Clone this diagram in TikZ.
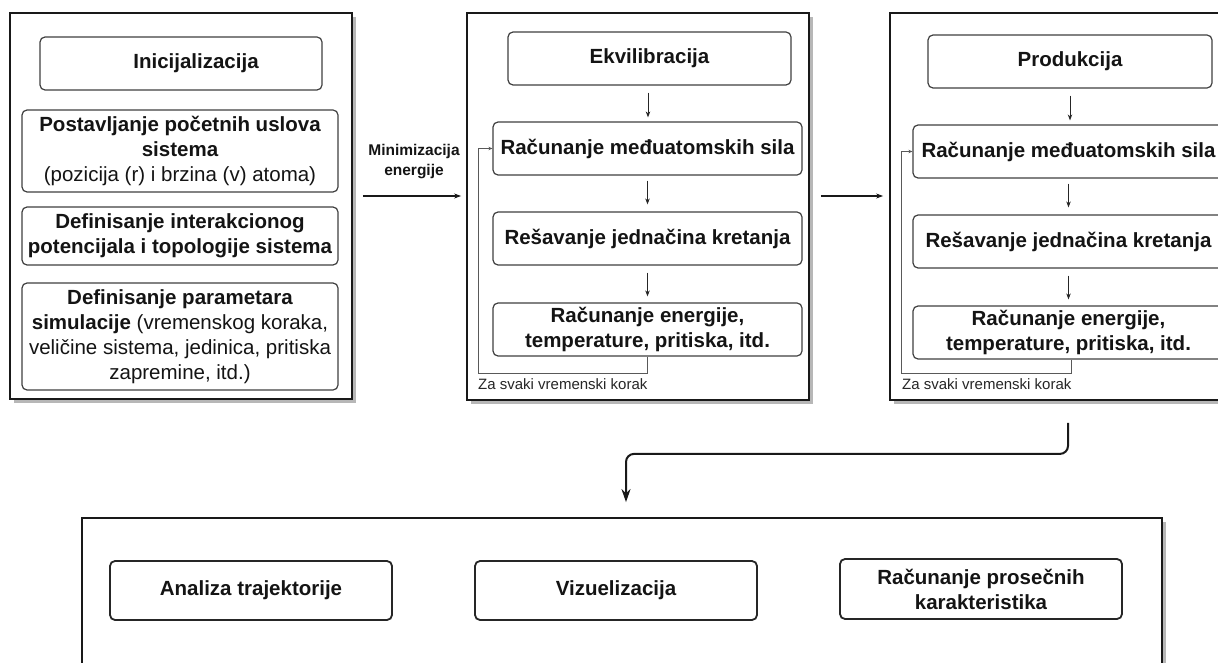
\documentclass[tikz,border=0pt]{standalone}
\usepackage{fontspec}
\setmainfont{Liberation Sans}
\usetikzlibrary{shadows,arrows.meta}
\newcommand\btxt{\fontsize{20.5}{25}\selectfont}
\newcommand\stxt{\fontsize{15}{18}\selectfont}
\begin{document}
\begin{tikzpicture}[x=1pt,y=1pt,
  outer/.style={draw=black!90, line width=1.8pt, fill=white, inner sep=0pt,
    drop shadow={shadow xshift=4pt,shadow yshift=-4pt,opacity=0.4,fill=black!70}},
  ibox/.style={draw=black!75, line width=1.2pt, rounded corners=5pt, fill=white,
    align=center, inner sep=0pt, text=black!92, font=\btxt},
  bbox/.style={ibox, draw=black!85, line width=1.8pt},
  sarr/.style={draw=black!85, line width=0.9pt, -{Stealth[length=6pt,width=4.5pt]}},
  lp/.style={draw=black!65, line width=1pt, -{Stealth[length=4pt,width=3.5pt]}},
  marr/.style={draw=black!90, line width=1.1pt, -{Stealth[length=7pt,width=5pt]}},
  barr/.style={draw=black!90, line width=2pt, rounded corners=8pt, -{Stealth[length=13pt,width=9pt]}},
  note/.style={font=\stxt, text=black!85, inner sep=0pt, anchor=west}]
\useasboundingbox (0,0) rectangle (1218,-663);
\fill[white] (0,0) rectangle (1218,-663);
\clip (0,0) rectangle (1218,-663);

% outer boxes
\node[outer, minimum width=342pt, minimum height=386pt] (b1) at (181,-206) {};
\node[outer, minimum width=342pt, minimum height=387pt] (b2) at (638,-206.5) {};
\node[outer, minimum width=342pt, minimum height=387pt] (b3) at (1061,-206.5) {};
\node[outer, minimum width=1080pt, minimum height=210pt] (bot) at (622,-623) {};

% box 1
\node[ibox, minimum width=282pt, minimum height=53pt] (init) at (181,-63.5) {\bfseries\hspace*{30pt}Inicijalizacija};
\node[ibox, minimum width=316pt, minimum height=82pt] (post) at (180,-151) {{\bfseries Postavljanje početnih uslova}\\{\bfseries sistema}\\(pozicija (r) i brzina (v) atoma)};
\node[ibox, minimum width=316pt, minimum height=58pt] (defint) at (180,-236) {{\bfseries Definisanje interakcionog}\\{\bfseries potencijala i topologije sistema}};
\node[ibox, minimum width=316pt, minimum height=107pt] (defpar) at (180,-336.5) {{\bfseries Definisanje parametara}\\{\bfseries simulacije} (vremenskog koraka,\\veličine sistema, jedinica, pritiska\\zapremine, itd.)};

% box 2
\node[ibox, minimum width=283pt, minimum height=53pt] (ekv) at (649.5,-58.5) {\bfseries Ekvilibracija};
\node[ibox, minimum width=309pt, minimum height=53pt] (sil2) at (647.5,-148.5) {\bfseries Računanje međuatomskih sila};
\node[ibox, minimum width=309pt, minimum height=53pt] (res2) at (647.5,-238.5) {\bfseries Rešavanje jednačina kretanja};
\node[ibox, minimum width=309pt, minimum height=53pt] (en2) at (647.5,-329.5) {{\bfseries Računanje energije,}\\{\bfseries temperature, pritiska, itd.}};
\draw[sarr, shorten <=7pt, shorten >=4pt] ([xshift=-1.5pt]ekv.south) -- ([xshift=-1.5pt]ekv.south |- sil2.north);
\draw[sarr, shorten <=5pt, shorten >=7pt] (sil2.south) -- (res2.north);
\draw[sarr, shorten <=7pt, shorten >=6pt] (res2.south) -- (en2.north);
\draw[lp] (en2.south) -- ++(0,-17pt) -| ([xshift=-14pt]sil2.west) -- (sil2.west);
\node[note] (z2) at (478,-384) {Za svaki vremenski korak};

% box 3
\node[ibox, minimum width=284pt, minimum height=53pt] (prod) at (1070,-61.5) {\bfseries Produkcija};
\node[ibox, minimum width=311pt, minimum height=53pt] (sil3) at (1068.5,-151.5) {\bfseries Računanje međuatomskih sila};
\node[ibox, minimum width=311pt, minimum height=53pt] (res3) at (1068.5,-241.5) {\bfseries Rešavanje jednačina kretanja};
\node[ibox, minimum width=311pt, minimum height=53pt] (en3) at (1068.5,-332.5) {{\bfseries Računanje energije,}\\{\bfseries temperature, pritiska, itd.}};
\draw[sarr, shorten <=7pt, shorten >=4pt] (prod.south) -- (prod.south |- sil3.north);
\draw[sarr, shorten <=5pt, shorten >=7pt] (sil3.south) -- (res3.north);
\draw[sarr, shorten <=7pt, shorten >=6pt] (res3.south) -- (en3.north);
\draw[lp] ([xshift=3pt]en3.south) -- ++(0,-14pt) -| ([xshift=-11pt]sil3.west) -- (sil3.west);
\node[note] (z3) at (902,-384) {Za svaki vremenski korak};

% connectors between stages
\coordinate (ya) at (0,-196);
\draw[marr, shorten <=10pt, shorten >=5pt] (b1.east |- ya) -- (b2.west |- ya);
\node[font=\bfseries\fontsize{15.5}{20}\selectfont, align=center, text=black!92] (mint) at (414,-162) {Minimizacija\\energije};
\draw[marr, shorten <=11pt, shorten >=6pt] (b2.east |- ya) -- (b3.west |- ya);
\draw[barr] ([xshift=7pt,yshift=-22pt]b3.south) -- ++(0,-31pt) -| ([xshift=4pt,yshift=15pt]bot.north);

% bottom boxes
\node[bbox, minimum width=282pt, minimum height=59pt] (ana) at (251,-590.5) {\bfseries Analiza trajektorije};
\node[bbox, minimum width=282pt, minimum height=59pt] (viz) at (616,-590.5) {\bfseries Vizuelizacija};
\node[bbox, minimum width=282pt, minimum height=60pt] (rac) at (981,-589) {{\bfseries Računanje prosečnih}\\{\bfseries karakteristika}};
\end{tikzpicture}
\end{document}
